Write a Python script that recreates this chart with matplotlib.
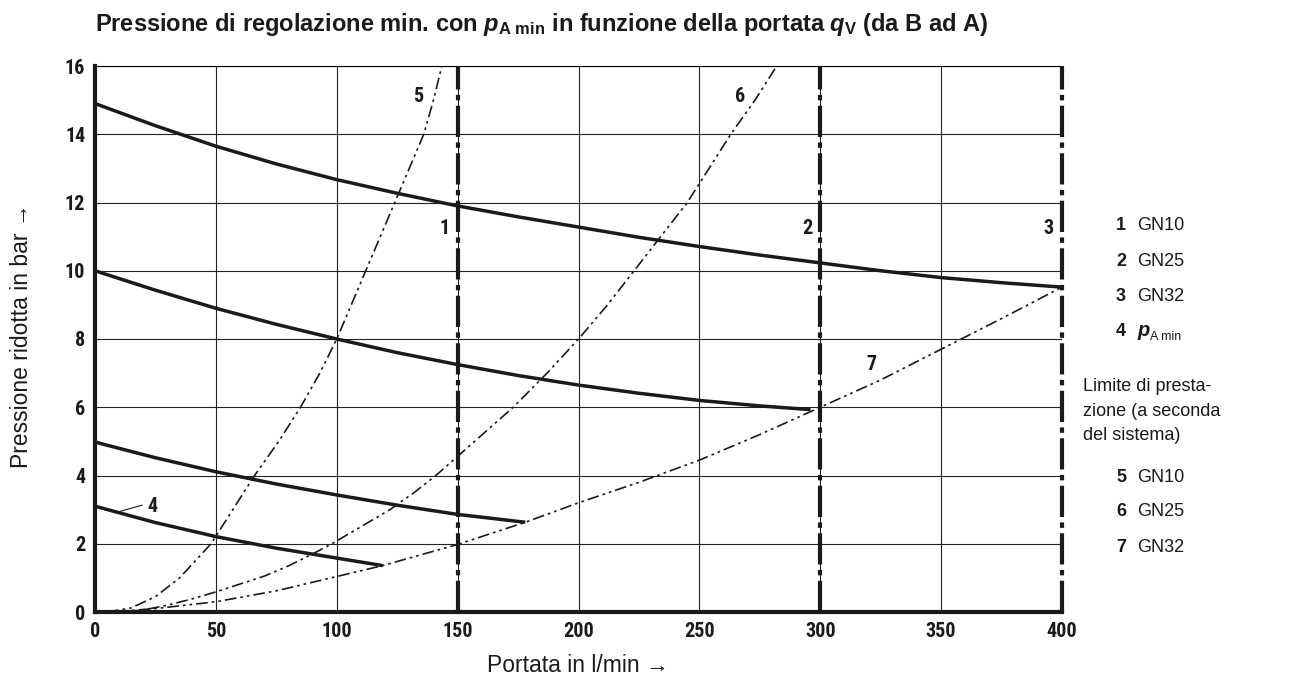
import matplotlib
matplotlib.use("Agg")
import matplotlib.pyplot as plt
from matplotlib import font_manager

# ---- data ----
x_ticks = [0, 50, 100, 150, 200, 250, 300, 350, 400]
y_ticks = [0, 2, 4, 6, 8, 10, 12, 14, 16]

c1_q = [0, 25, 50, 75, 100, 125, 150, 175, 200, 225, 250, 275, 300, 325, 350, 375, 400]
c1_p = [14.9, 14.25, 13.65, 13.13, 12.67, 12.27, 11.9, 11.58, 11.28, 10.98, 10.71, 10.46, 10.23, 10.0, 9.8, 9.65, 9.52]

c2_q = [0, 25, 50, 75, 100, 125, 150, 175, 200, 225, 250, 275, 296]
c2_p = [10.0, 9.43, 8.9, 8.43, 8.0, 7.6, 7.25, 6.93, 6.65, 6.41, 6.2, 6.04, 5.93]

c3_q = [0, 25, 50, 75, 100, 125, 150, 178]
c3_p = [4.98, 4.52, 4.11, 3.75, 3.43, 3.13, 2.86, 2.63]

c4_q = [0, 25, 50, 75, 100, 119]
c4_p = [3.1, 2.62, 2.21, 1.87, 1.58, 1.36]

c5_q = [5, 15, 25, 35, 48, 57, 66, 76, 85, 93, 100, 106, 112, 118, 124, 130, 136, 140, 143.5]
c5_p = [0, 0.12, 0.45, 1.0, 2.0, 3.0, 4.0, 5.0, 6.0, 7.0, 8.0, 9.0, 10.0, 11.0, 12.0, 13.0, 14.0, 15.0, 16.0]

c6_q = [10, 20, 30, 40, 50, 60, 70, 80, 90, 98, 110, 122, 132, 141, 157, 173, 187, 200, 212, 223, 234, 245, 254, 263, 273, 282]
c6_p = [0, 0.06, 0.2, 0.38, 0.59, 0.82, 1.05, 1.35, 1.7, 2.0, 2.5, 3.0, 3.5, 4.0, 5.0, 6.0, 7.0, 8.0, 9.0, 10.0, 11.0, 12.0, 13.0, 14.0, 15.0, 16.0]

c7_q = [6, 25, 50, 75, 100, 119, 150, 178, 200, 225, 250, 275, 300, 325, 350, 375, 400]
c7_p = [0, 0.1, 0.3, 0.62, 1.04, 1.36, 1.98, 2.63, 3.2, 3.8, 4.45, 5.2, 6.0, 6.8, 7.7, 8.6, 9.52]

limit_q = [150, 300, 400]
limit_labels = ["1", "2", "3"]

legend_nums = ["1", "2", "3", "4"]
legend_names = ["GN10", "GN25", "GN32", None]
legend2_nums = ["5", "6", "7"]
legend2_names = ["GN10", "GN25", "GN32"]

# ---- fonts ----
available = {f.name for f in font_manager.fontManager.ttflist}
cond_stretch = 'normal'
NARROW = None
for cand in ['Liberation Sans Narrow', 'Roboto Condensed', 'Open Sans Condensed', 'DejaVu Sans Condensed']:
    if cand in available:
        NARROW = [cand, 'DejaVu Sans']
        break
if NARROW is None:
    cond_fonts = [f for f in font_manager.fontManager.ttflist
                  if 'ondensed' in str(f.stretch) or 'ondensed' in f.fname or 'Narrow' in f.fname]
    if cond_fonts:
        NARROW = [cond_fonts[0].name, 'DejaVu Sans']
        cond_stretch = 'condensed'
    else:
        NARROW = ['Liberation Sans', 'DejaVu Sans']

plt.rcParams['mathtext.fontset'] = 'custom'
plt.rcParams['mathtext.rm'] = 'Liberation Sans:bold'
plt.rcParams['mathtext.it'] = 'Liberation Sans:bold:italic'
plt.rcParams['mathtext.bf'] = 'Liberation Sans:bold'

SANS = ['Liberation Sans', 'DejaVu Sans']

fig = plt.figure(figsize=(13.07, 6.82), dpi=100)
ax = fig.add_axes([95/1307, 70/682, 967/1307, 546/682])

ax.set_xlim(0, 400)
ax.set_ylim(0, 16)
ax.set_xticks(x_ticks)
ax.set_yticks(y_ticks)
ax.grid(True, color='#222222', lw=0.8)
ax.set_axisbelow(True)
ax.tick_params(length=0, pad=7)
for lab in ax.get_xticklabels() + ax.get_yticklabels():
    lab.set_family(NARROW)
    lab.set_stretch(cond_stretch)
    lab.set_fontweight('bold')
    lab.set_fontsize(14.5)
    lab.set_color('#1a1a1a')

for s in ['left', 'bottom']:
    ax.spines[s].set_linewidth(3)
    ax.spines[s].set_color('#1a1a1a')
ax.spines['top'].set_linewidth(0.8)
ax.spines['right'].set_visible(False)

k = '#1a1a1a'
for q, p in [(c1_q, c1_p), (c2_q, c2_p), (c3_q, c3_p), (c4_q, c4_p)]:
    ax.plot(q, p, color=k, lw=2.5, solid_capstyle='butt', solid_joinstyle='round', zorder=4)

for q, p in [(c5_q, c5_p), (c6_q, c6_p), (c7_q, c7_p)]:
    ax.plot(q, p, color=k, lw=1.2, dashes=(7, 2.4, 1.6, 2.4, 1.6, 2.4), zorder=3)

for q in limit_q:
    ax.axvline(q, color=k, lw=3, dashes=(7.5, 1.3, 1.3, 1.3), zorder=5, clip_on=False)

# curve labels
lab_kw = dict(family=NARROW, stretch=cond_stretch, fontweight='bold', fontsize=14.5,
              color=k, ha='center', va='center')
for q, t in zip(limit_q, limit_labels):
    ax.text(q - 5.5, 11.25, t, **lab_kw)
ax.text(133.6, 15.1, "5", **lab_kw)
ax.text(266.8, 15.1, "6", **lab_kw)
ax.text(321, 7.25, "7", **lab_kw)
ax.text(23.6, 3.08, "4", **lab_kw)
ax.plot([9.5, 19.4], [2.93, 3.13], color=k, lw=0.8)

# axis labels
fig.text(22/1307, 1 - 336/682, "Pressione ridotta in bar \u2192", rotation=90,
         ha='center', va='center', fontsize=16.5, family=SANS, color=k)
fig.text(578/1307, 1 - 665/682, "Portata in l/min \u2192",
         ha='center', va='center', fontsize=16.5, family=SANS, color=k)

# title
fig.text(95/1307, 1 - 24/682,
         r"Pressione di regolazione min. con $p_{\mathrm{A\ min}}$ in funzione della portata $q_{\mathrm{V}}$ (da B ad A)",
         ha='left', va='center', fontsize=17, family=SANS, fontweight='bold', color=k)

# legend
FS = 13
num_x = 1121/1307
name_x = 1137/1307
rows_y = [226, 262, 296, 331]
for n, nm, y in zip(legend_nums, legend_names, rows_y):
    fig.text(num_x, 1 - y/682, n, ha='center', va='center', fontsize=FS,
             family=SANS, fontweight='bold', color=k)
    if nm is not None:
        fig.text(name_x, 1 - y/682, nm, ha='left', va='center', fontsize=FS,
                 family=SANS, color=k)
fig.text(name_x, 1 - 331/682, "p", ha='left', va='center', fontsize=14.5,
         family=SANS, fontweight='bold', fontstyle='italic', color=k)
fig.text(name_x + 13/1307, 1 - 337/682, "A min", ha='left', va='center', fontsize=9,
         family=SANS, color=k)

for t, y in zip(["Limite di presta-", "zione (a seconda", "del sistema)"], [386, 411, 436]):
    fig.text(1083/1307, 1 - y/682, t, ha='left', va='center', fontsize=FS,
             family=SANS, color=k)

for n, nm, y in zip(legend2_nums, legend2_names, [477, 512, 547]):
    fig.text(num_x, 1 - y/682, n, ha='center', va='center', fontsize=FS,
             family=SANS, fontweight='bold', color=k)
    fig.text(name_x, 1 - y/682, nm, ha='left', va='center', fontsize=FS,
             family=SANS, color=k)

fig.savefig("out.png", dpi=100)
